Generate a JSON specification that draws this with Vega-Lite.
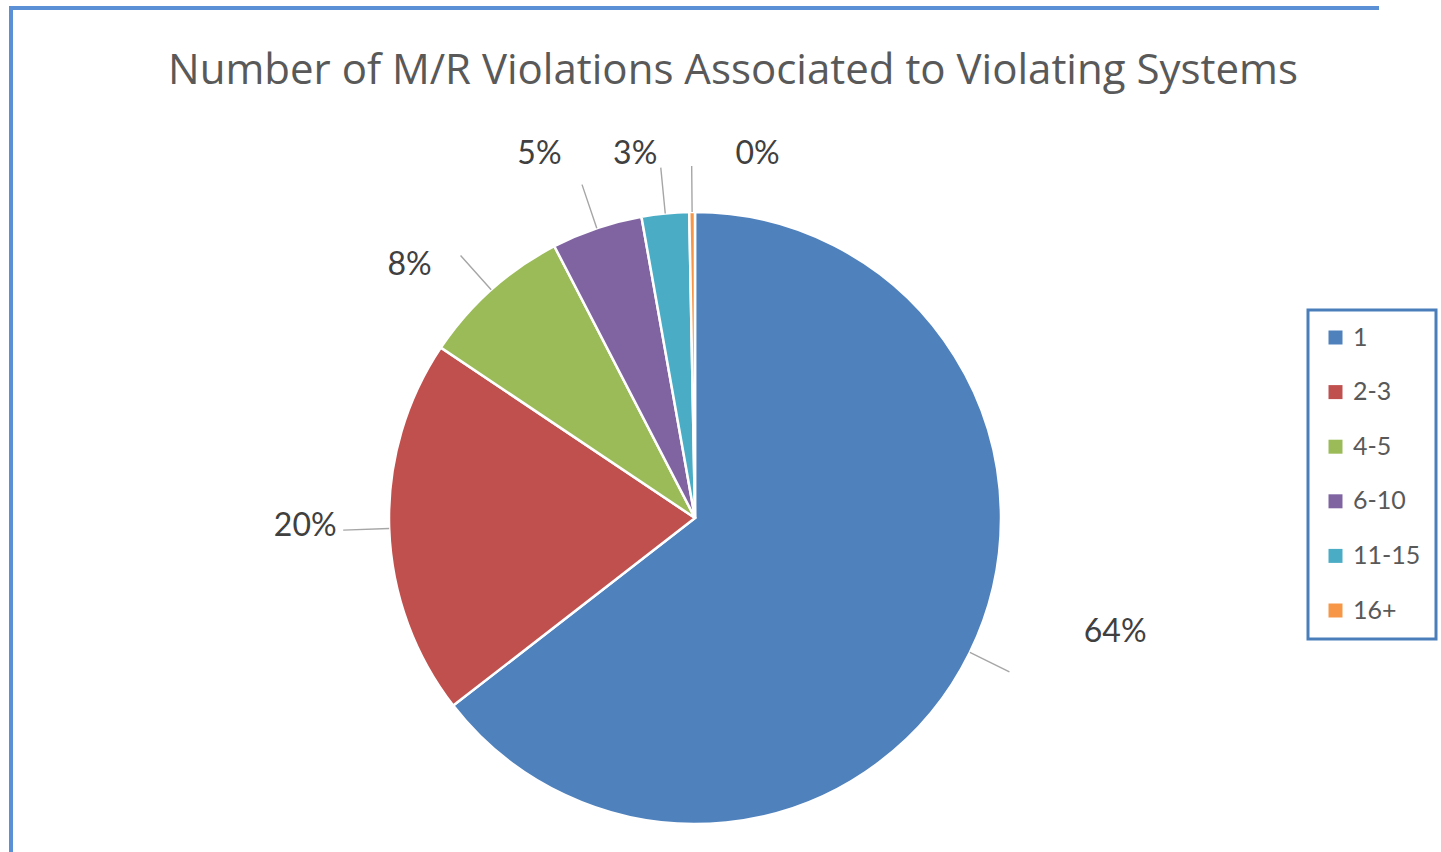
{
  "$schema": "https://vega.github.io/schema/vega-lite/v6.json",
  "width": 1368,
  "height": 1020,
  "autosize": {"type": "none"},
  "padding": {"left": 11, "top": 8, "right": 62, "bottom": 0},
  "background": "#ffffff",
  "title": {
    "text": "Number of M/R Violations Associated to Violating Systems",
    "font": "Open Sans",
    "fontSize": 42,
    "fontWeight": "normal",
    "color": "#595959",
    "anchor": "middle",
    "frame": "group",
    "baseline": "alphabetic",
    "dx": 38,
    "offset": -129
  },
  "config": {
    "view": {"stroke": "#5B8FD6", "strokeWidth": 4, "strokeDash": [1368, 2388, 1020]},
    "style": {"view": {"stroke": "#5B8FD6", "strokeWidth": 4, "strokeDash": [1368, 2388, 1020]}},
    "legend": {"strokeWidth": 3}
  },
  "data": {
    "values": [
      {"cat": "1", "rank": 1, "value": 64.5, "label": "64%"},
      {"cat": "2-3", "rank": 2, "value": 19.9, "label": "20%"},
      {"cat": "4-5", "rank": 3, "value": 8.0, "label": "8%"},
      {"cat": "6-10", "rank": 4, "value": 4.8, "label": "5%"},
      {"cat": "11-15", "rank": 5, "value": 2.5, "label": "3%"},
      {"cat": "16+", "rank": 6, "value": 0.3, "label": "0%"}
    ]
  },
  "layer": [
    {
      "layer": [
        {
          "mark": {"type": "arc", "radius": 306, "stroke": "#ffffff", "strokeWidth": 2.5},
          "encoding": {
            "theta": {"field": "value", "type": "quantitative", "stack": true},
            "order": {"field": "rank", "type": "quantitative"},
            "color": {
              "field": "cat",
              "type": "nominal",
              "scale": {
                "domain": ["1", "2-3", "4-5", "6-10", "11-15", "16+"],
                "range": ["#4F81BD", "#C0504D", "#9BBB59", "#8064A2", "#4BACC6", "#F79646"]
              },
              "legend": {
                "orient": "none",
                "legendX": 1297,
                "legendY": 302,
                "title": null,
                "padding": 15,
                "strokeColor": "#4A7EBB",
                "fillColor": "#ffffff",
                "symbolType": "square",
                "symbolSize": 196,
                "symbolStrokeWidth": 0,
                "labelFont": "Lato",
                "labelFontSize": 25,
                "labelColor": "#595959",
                "labelOffset": 5,
                "rowPadding": 28.6
              }
            }
          }
        },
        {
          "mark": {"type": "arc", "radius": 352, "radius2": 306, "padAngle": 3.1416, "fill": "transparent", "stroke": "#A6A6A6", "strokeWidth": 1.4},
          "encoding": {
            "theta": {"field": "value", "type": "quantitative", "stack": true},
            "order": {"field": "rank", "type": "quantitative"},
            "detail": {"field": "cat", "type": "nominal"},
            "strokeOpacity": {"condition": {"test": "datum.cat === '1'", "value": 0}, "value": 1}
          }
        },
        {
          "mark": {"type": "text", "radius": 430, "dx": 34, "dy": -75, "font": "Lato", "fontSize": 32, "fill": "#404040", "align": "center", "baseline": "middle"},
          "encoding": {
            "theta": {"field": "value", "type": "quantitative", "stack": true},
            "order": {"field": "rank", "type": "quantitative"},
            "detail": {"field": "cat", "type": "nominal"},
            "text": {"condition": {"test": "datum.cat === '1'", "field": "label", "type": "nominal"}, "value": ""}
          }
        },
        {
          "mark": {"type": "text", "radius": 390, "dx": 0, "dy": -5, "font": "Lato", "fontSize": 32, "fill": "#404040", "align": "center", "baseline": "middle"},
          "encoding": {
            "theta": {"field": "value", "type": "quantitative", "stack": true},
            "order": {"field": "rank", "type": "quantitative"},
            "detail": {"field": "cat", "type": "nominal"},
            "text": {"condition": {"test": "datum.cat === '2-3'", "field": "label", "type": "nominal"}, "value": ""}
          }
        },
        {
          "mark": {"type": "text", "radius": 382, "dx": -31, "dy": 32, "font": "Lato", "fontSize": 32, "fill": "#404040", "align": "center", "baseline": "middle"},
          "encoding": {
            "theta": {"field": "value", "type": "quantitative", "stack": true},
            "order": {"field": "rank", "type": "quantitative"},
            "detail": {"field": "cat", "type": "nominal"},
            "text": {"condition": {"test": "datum.cat === '4-5'", "field": "label", "type": "nominal"}, "value": ""}
          }
        },
        {
          "mark": {"type": "text", "radius": 385, "dx": -32, "dy": 1, "font": "Lato", "fontSize": 32, "fill": "#404040", "align": "center", "baseline": "middle"},
          "encoding": {
            "theta": {"field": "value", "type": "quantitative", "stack": true},
            "order": {"field": "rank", "type": "quantitative"},
            "detail": {"field": "cat", "type": "nominal"},
            "text": {"condition": {"test": "datum.cat === '6-10'", "field": "label", "type": "nominal"}, "value": ""}
          }
        },
        {
          "mark": {"type": "text", "radius": 368, "dx": -24, "dy": 2, "font": "Lato", "fontSize": 32, "fill": "#404040", "align": "center", "baseline": "middle"},
          "encoding": {
            "theta": {"field": "value", "type": "quantitative", "stack": true},
            "order": {"field": "rank", "type": "quantitative"},
            "detail": {"field": "cat", "type": "nominal"},
            "text": {"condition": {"test": "datum.cat === '11-15'", "field": "label", "type": "nominal"}, "value": ""}
          }
        },
        {
          "mark": {"type": "text", "radius": 366, "dx": 66, "dy": 2, "font": "Lato", "fontSize": 32, "fill": "#404040", "align": "center", "baseline": "middle"},
          "encoding": {
            "theta": {"field": "value", "type": "quantitative", "stack": true},
            "order": {"field": "rank", "type": "quantitative"},
            "detail": {"field": "cat", "type": "nominal"},
            "text": {"condition": {"test": "datum.cat === '16+'", "field": "label", "type": "nominal"}, "value": ""}
          }
        }
      ]
    },
    {
      "mark": {"type": "arc", "radius": 350, "radius2": 306, "padAngle": 3.1416, "fill": "transparent", "stroke": "#A6A6A6", "strokeWidth": 1.4},
      "encoding": {
        "theta": {"field": "value", "type": "quantitative", "stack": true, "scale": {"range": [0.506, 5.218]}},
        "order": {"field": "rank", "type": "quantitative"},
        "detail": {"field": "cat", "type": "nominal"},
        "strokeOpacity": {"condition": {"test": "datum.cat === '1'", "value": 1}, "value": 0}
      }
    }
  ],
  "resolve": {"scale": {"theta": "independent"}}
}
